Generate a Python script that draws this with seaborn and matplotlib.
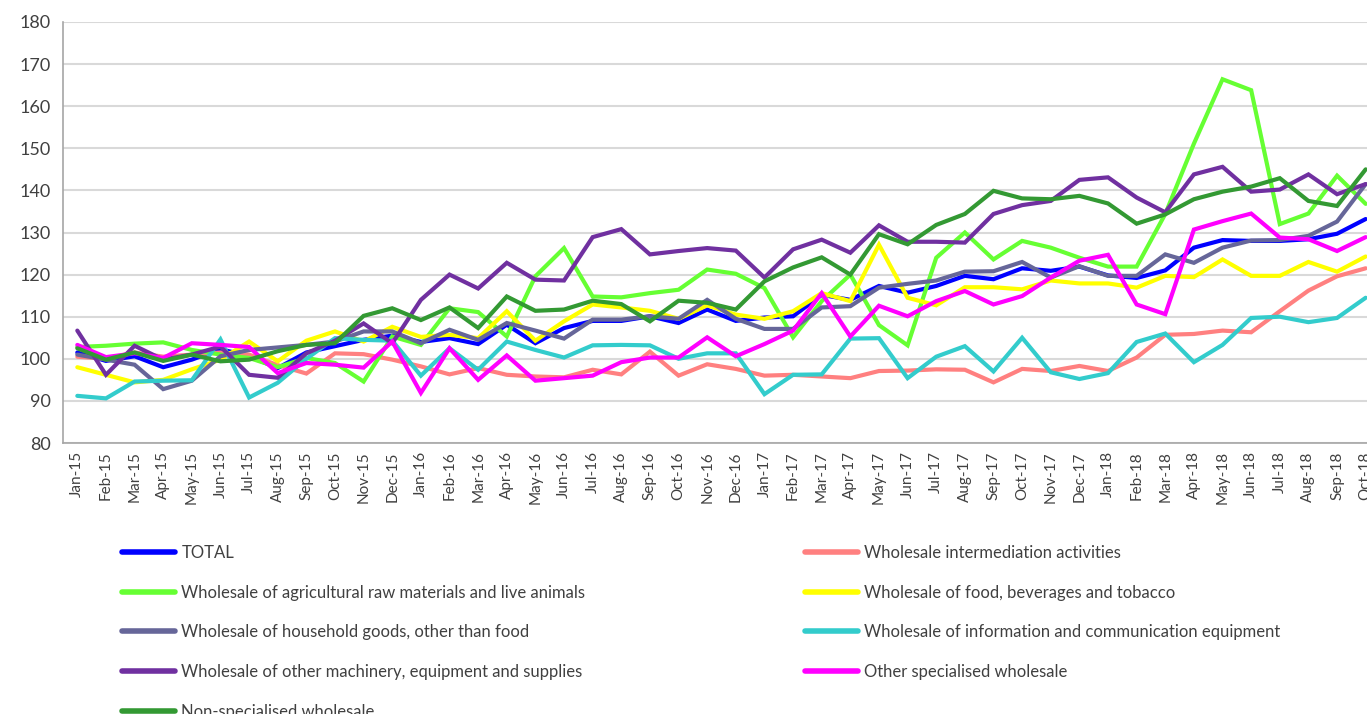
import matplotlib
matplotlib.use("Agg")
import matplotlib.pyplot as plt
import numpy as np
import pandas as pd
import seaborn as sns

sns.set_style("white")
plt.rcParams['font.family'] = ['Lato', 'DejaVu Sans']

# ── Data ─────────────────────────────────────────────────────────
months = ["Jan-15", "Feb-15", "Mar-15", "Apr-15", "May-15", "Jun-15", "Jul-15", "Aug-15",
          "Sep-15", "Oct-15", "Nov-15", "Dec-15", "Jan-16", "Feb-16", "Mar-16", "Apr-16",
          "May-16", "Jun-16", "Jul-16", "Aug-16", "Sep-16", "Oct-16", "Nov-16", "Dec-16",
          "Jan-17", "Feb-17", "Mar-17", "Apr-17", "May-17", "Jun-17", "Jul-17", "Aug-17",
          "Sep-17", "Oct-17", "Nov-17", "Dec-17", "Jan-18", "Feb-18", "Mar-18", "Apr-18",
          "May-18", "Jun-18", "Jul-18", "Aug-18", "Sep-18", "Oct-18"]

total = [101.5, 99.5, 100.6, 98.0, 99.8, 102.3, 100.6, 97.8, 101.5, 103.0, 104.5, 105.5,
         104.0, 104.9, 103.5, 108.1, 103.7, 107.3, 109.0, 109.0, 110.1, 108.5, 111.7, 109.0,
         109.8, 110.1, 115.2, 114.0, 117.3, 115.7, 117.3, 119.7, 118.9, 121.5, 120.9, 121.9,
         119.8, 119.2, 121.0, 126.4, 128.2, 128.0, 128.0, 128.4, 129.7, 133.2]
intermediation = [100.5, 100.0, 101.5, 100.5, 101.0, 101.5, 101.0, 98.5, 96.5, 101.3, 101.1, 99.8,
                  98.2, 96.3, 97.8, 96.2, 95.8, 95.6, 97.4, 96.3, 101.7, 96.0, 98.7, 97.6,
                  96.0, 96.2, 95.8, 95.4, 97.1, 97.2, 97.5, 97.4, 94.4, 97.6, 97.1, 98.3,
                  97.1, 100.3, 105.7, 105.9, 106.7, 106.3, 111.3, 116.2, 119.6, 121.5]
agri = [102.8, 103.1, 103.6, 103.9, 102.1, 101.0, 100.2, 98.0, 100.2, 99.0, 94.6, 105.3,
        103.3, 112.0, 111.1, 105.3, 119.6, 126.3, 114.8, 114.6, 115.6, 116.4, 121.2, 120.2,
        116.8, 105.1, 113.7, 120.0, 108.0, 103.2, 124.0, 130.0, 123.6, 128.0, 126.4, 124.0,
        121.9, 121.9, 134.4, 151.1, 166.4, 163.8, 132.0, 134.5, 143.5, 136.8]
food = [98.0, 96.2, 94.4, 95.0, 97.5, 99.8, 104.1, 99.4, 104.3, 106.5, 104.1, 107.6,
        105.2, 105.7, 104.9, 111.3, 104.3, 108.9, 112.9, 112.2, 111.4, 109.5, 112.7, 110.5,
        109.5, 111.3, 115.6, 113.7, 127.1, 114.5, 112.7, 117.0, 117.0, 116.5, 118.6, 117.9,
        117.9, 116.9, 119.7, 119.4, 123.6, 119.7, 119.7, 123.0, 120.7, 124.3]
household = [101.0, 99.8, 98.6, 92.8, 94.8, 100.6, 102.1, 102.7, 103.3, 104.1, 106.5, 106.5,
             103.7, 106.9, 104.5, 108.5, 106.7, 104.8, 109.3, 109.3, 110.1, 109.5, 114.0, 109.5,
             107.1, 107.1, 112.2, 112.5, 116.9, 117.8, 118.6, 120.7, 120.8, 123.0, 119.3, 122.0,
             119.7, 119.7, 124.8, 122.8, 126.4, 128.1, 128.2, 129.2, 132.6, 141.5]
info_comm = [91.2, 90.6, 94.6, 94.8, 94.9, 104.6, 90.8, 94.3, 100.0, 104.9, 104.5, 104.3,
             96.0, 102.5, 97.4, 104.1, 102.1, 100.3, 103.2, 103.3, 103.2, 100.0, 101.3, 101.3,
             91.6, 96.2, 96.3, 104.8, 104.9, 95.4, 100.5, 103.0, 97.0, 105.0, 96.8, 95.2,
             96.6, 104.0, 106.0, 99.2, 103.3, 109.7, 110.0, 108.7, 109.7, 114.5]
machinery = [106.7, 96.2, 103.1, 99.8, 101.0, 102.9, 96.2, 95.5, 101.3, 104.3, 108.4, 103.7,
             114.0, 120.0, 116.7, 122.8, 118.8, 118.6, 128.9, 130.8, 124.8, 125.6, 126.3, 125.7,
             119.3, 126.0, 128.3, 125.2, 131.7, 127.8, 127.8, 127.6, 134.4, 136.5, 137.5, 142.5,
             143.1, 138.3, 134.8, 143.8, 145.6, 139.7, 140.2, 143.8, 139.1, 141.5]
other_spec = [103.3, 100.4, 101.3, 100.2, 103.7, 103.3, 102.8, 96.6, 99.0, 98.6, 97.9, 104.1,
              91.9, 102.5, 95.0, 100.8, 94.8, 95.4, 96.0, 99.2, 100.3, 100.3, 105.1, 100.6,
              103.5, 106.7, 115.6, 105.3, 112.6, 110.1, 113.7, 116.1, 112.9, 114.9, 119.3, 123.3,
              124.7, 112.9, 110.6, 130.7, 132.7, 134.5, 128.8, 128.4, 125.6, 128.9]
non_spec = [102.5, 99.8, 101.5, 99.5, 101.0, 99.4, 99.8, 101.8, 103.3, 103.7, 110.2, 112.0,
            109.2, 112.2, 107.3, 114.8, 111.4, 111.7, 113.8, 113.0, 108.9, 113.8, 113.3, 111.7,
            118.4, 121.7, 124.1, 120.0, 129.6, 127.2, 131.8, 134.4, 139.9, 138.1, 137.9, 138.7,
            136.9, 132.1, 134.3, 137.9, 139.7, 140.9, 142.9, 137.5, 136.3, 145.0]

series = [
    ("TOTAL", total, "#0000FF"),
    ("Wholesale intermediation activities", intermediation, "#FF8080"),
    ("Wholesale of agricultural raw materials and live animals", agri, "#66FF33"),
    ("Wholesale of food, beverages and tobacco", food, "#FFFF00"),
    ("Wholesale of household goods, other than food", household, "#666699"),
    ("Wholesale of information and communication equipment", info_comm, "#33CCCC"),
    ("Wholesale of other machinery, equipment and supplies", machinery, "#7030A0"),
    ("Other specialised wholesale", other_spec, "#FF00FF"),
    ("Non-specialised wholesale", non_spec, "#339933"),
]

# ── Figure ───────────────────────────────────────────────────────
fig = plt.figure(figsize=(13.67, 7.14), dpi=100)
# plot area runs slightly past the right edge of the picture, as in the source
ax = fig.add_axes([63 / 1367, 1 - 443 / 714, (1380 - 63) / 1367, (443 - 22) / 714])

x = np.arange(len(months))
handles = {}
for name, vals, clr in series:
    df = pd.DataFrame({"month": x, "value": vals})
    sns.lineplot(data=df, x="month", y="value", ax=ax, color=clr, linewidth=3.0,
                 solid_joinstyle="miter", label=name)
    handles[name] = ax.lines[-1]
ax.get_legend().remove()

ax.set_xlim(-0.5, len(months) - 0.5)
ax.set_ylim(80, 180)
ax.set_yticks(range(80, 181, 10))
ax.set_xticks(x)
ax.set_xticklabels(months, rotation=90)
ax.set_xlabel("")
ax.set_ylabel("")
ax.tick_params(axis="x", labelsize=11, labelcolor="#404040", length=0, pad=6)
ax.tick_params(axis="y", labelsize=13, labelcolor="#404040", length=0, pad=9)
ax.grid(axis="y", color="#D9D9D9", linewidth=1.5)
ax.set_axisbelow(True)
for side in ["top", "right"]:
    ax.spines[side].set_visible(False)
for side in ["left", "bottom"]:
    ax.spines[side].set_color("#A6A6A6")
    ax.spines[side].set_linewidth(1.2)

# ── Legend: two columns below the chart ──────────────────────────
names = [s[0] for s in series]
col1 = names[0::2]
col2 = names[1::2]
leg_kw = dict(frameon=False, fontsize=12, handlelength=3.2, handletextpad=0.36,
              labelspacing=1.42, borderpad=0, borderaxespad=0, loc="upper left")
for cols, x0 in [(col1, 122), (col2, 805)]:
    leg = fig.legend([handles[n] for n in cols], cols,
                     bbox_to_anchor=(x0 / 1367, 1 - 545 / 714), **leg_kw)
    for t in leg.get_texts():
        t.set_color("#404040")
    for h in leg.legend_handles:
        h.set_linewidth(4)

plt.savefig("out.png", dpi=100)
plt.close()
